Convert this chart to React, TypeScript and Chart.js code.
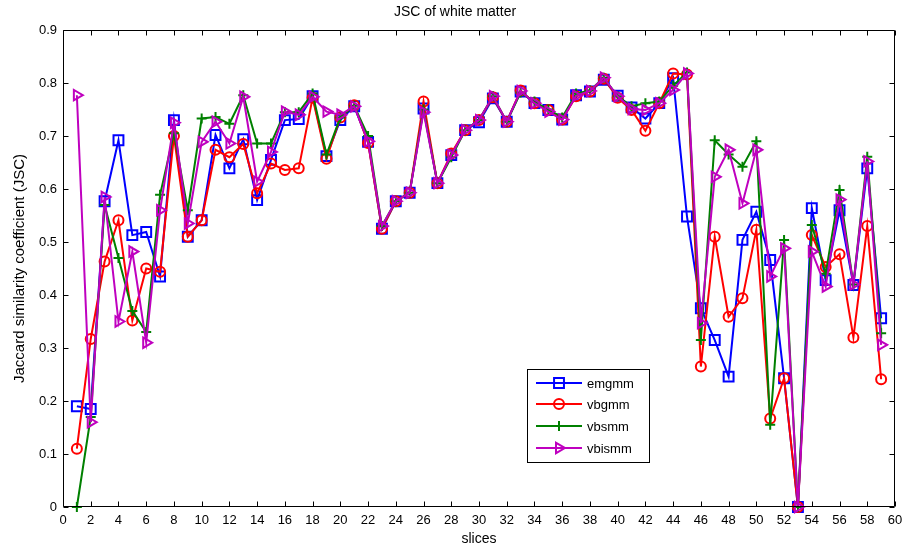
import React, { useEffect, useRef } from "react";
import { Chart, registerables } from "chart.js";

Chart.register(...registerables);

const slices = [1, 2, 3, 4, 5, 6, 7, 8, 9, 10, 11, 12, 13, 14, 15, 16, 17, 18, 19, 20, 21, 22, 23, 24, 25, 26, 27, 28, 29, 30, 31, 32, 33, 34, 35, 36, 37, 38, 39, 40, 41, 42, 43, 44, 45, 46, 47, 48, 49, 50, 51, 52, 53, 54, 55, 56, 57, 58, 59];

const emgmm = [0.19, 0.185, 0.577, 0.692, 0.513, 0.519, 0.435, 0.73, 0.51, 0.541, 0.702, 0.639, 0.694, 0.579, 0.655, 0.73, 0.732, 0.775, 0.662, 0.73, 0.756, 0.689, 0.525, 0.577, 0.593, 0.752, 0.611, 0.664, 0.711, 0.726, 0.771, 0.727, 0.784, 0.762, 0.749, 0.731, 0.777, 0.784, 0.806, 0.776, 0.754, 0.733, 0.762, 0.809, 0.548, 0.375, 0.315, 0.246, 0.504, 0.557, 0.466, 0.243, 0.0, 0.564, 0.428, 0.56, 0.419, 0.639, 0.356];

const vbgmm = [0.11, 0.317, 0.463, 0.541, 0.352, 0.45, 0.444, 0.7, 0.51, 0.541, 0.674, 0.66, 0.685, 0.592, 0.648, 0.636, 0.639, 0.772, 0.657, 0.735, 0.758, 0.687, 0.525, 0.577, 0.593, 0.765, 0.611, 0.667, 0.711, 0.73, 0.773, 0.727, 0.786, 0.762, 0.749, 0.731, 0.775, 0.784, 0.808, 0.772, 0.749, 0.71, 0.762, 0.818, 0.816, 0.265, 0.51, 0.359, 0.394, 0.523, 0.167, 0.243, 0.0, 0.513, 0.453, 0.477, 0.32, 0.53, 0.241];

const vbsmm = [0.0, 0.17, 0.57, 0.47, 0.37, 0.33, 0.589, 0.705, 0.56, 0.733, 0.736, 0.723, 0.777, 0.686, 0.686, 0.745, 0.745, 0.78, 0.665, 0.735, 0.757, 0.7, 0.53, 0.577, 0.593, 0.75, 0.611, 0.66, 0.711, 0.73, 0.775, 0.727, 0.782, 0.765, 0.75, 0.735, 0.78, 0.786, 0.81, 0.775, 0.756, 0.762, 0.765, 0.795, 0.82, 0.315, 0.692, 0.665, 0.642, 0.69, 0.155, 0.504, 0.0, 0.532, 0.44, 0.598, 0.42, 0.661, 0.328];

const vbismm = [0.777, 0.16, 0.585, 0.35, 0.482, 0.31, 0.56, 0.725, 0.535, 0.689, 0.727, 0.686, 0.774, 0.614, 0.67, 0.746, 0.74, 0.774, 0.746, 0.74, 0.756, 0.69, 0.53, 0.577, 0.593, 0.745, 0.611, 0.664, 0.711, 0.73, 0.775, 0.727, 0.785, 0.762, 0.746, 0.731, 0.776, 0.785, 0.81, 0.775, 0.751, 0.749, 0.762, 0.787, 0.818, 0.347, 0.623, 0.674, 0.573, 0.674, 0.435, 0.488, 0.0, 0.482, 0.416, 0.58, 0.42, 0.652, 0.306];

const seriesNames = ["emgmm", "vbgmm", "vbsmm", "vbismm"];
const seriesColors = ["#0000ff", "#ff0000", "#008000", "#bf00bf"];

const chartTitle = "JSC of white matter";
const xTitle = "slices";
const yTitle = "Jaccard similarity coefficient (JSC)";

const FONT = "'Liberation Sans', Arial, Helvetica, sans-serif";

function toPoints(vals: number[]) {
  return slices.map((s, i) => ({ x: s, y: vals[i] }));
}

const markerDefs = [
  { style: "rect", radius: 7, rotation: 0 },
  { style: "circle", radius: 5, rotation: 0 },
  { style: "cross", radius: 5, rotation: 0 },
  { style: "triangle", radius: 6, rotation: 90 },
];

function drawMarker(ctx: CanvasRenderingContext2D, style: string, r: number, rot: number, x: number, y: number, color: string) {
  ctx.save();
  ctx.strokeStyle = color;
  ctx.lineWidth = 2;
  ctx.beginPath();
  if (style === "rect") {
    const s = Math.SQRT1_2 * r;
    ctx.rect(x - s, y - s, 2 * s, 2 * s);
  } else if (style === "circle") {
    ctx.arc(x, y, r, 0, Math.PI * 2);
  } else if (style === "cross") {
    ctx.moveTo(x - r, y);
    ctx.lineTo(x + r, y);
    ctx.moveTo(x, y - r);
    ctx.lineTo(x, y + r);
  } else if (style === "triangle") {
    const rad = (rot * Math.PI) / 180;
    for (let k = 0; k < 3; k++) {
      const a = rad + (k * 2 * Math.PI) / 3;
      const px = x + Math.sin(a) * r;
      const py = y - Math.cos(a) * r;
      if (k === 0) ctx.moveTo(px, py);
      else ctx.lineTo(px, py);
    }
    ctx.closePath();
  }
  ctx.stroke();
  ctx.restore();
}

const matlabPlugin = {
  id: "matlabAxes",
  afterDraw(chart: any) {
    const { ctx, chartArea } = chart;
    const { left, right, top, bottom } = chartArea;
    const xs = chart.scales.x;
    const ys = chart.scales.y;
    ctx.save();
    ctx.strokeStyle = "#000";
    ctx.lineWidth = 1;
    const L = Math.round(left) + 0.5;
    const R = Math.round(right) - 0.5;
    const T = Math.round(top) + 0.5;
    const B = Math.round(bottom) - 0.5;
    ctx.beginPath();
    ctx.rect(L, T, R - L, B - T);
    ctx.stroke();
    const tl = 5;
    ctx.beginPath();
    xs.ticks.forEach((t: any) => {
      const px = Math.round(xs.getPixelForValue(t.value)) + 0.5;
      ctx.moveTo(px, B);
      ctx.lineTo(px, B - tl);
      ctx.moveTo(px, T);
      ctx.lineTo(px, T + tl);
    });
    ys.ticks.forEach((t: any) => {
      const py = Math.round(ys.getPixelForValue(t.value)) + 0.5;
      ctx.moveTo(L, py);
      ctx.lineTo(L + tl, py);
      ctx.moveTo(R, py);
      ctx.lineTo(R - tl, py);
    });
    ctx.stroke();

    // titles
    ctx.fillStyle = "#000";
    ctx.textAlign = "center";
    ctx.textBaseline = "middle";
    ctx.font = `14px ${FONT}`;
    ctx.fillText(chartTitle, 455, 12);
    ctx.fillText(xTitle, (left + right) / 2, 539);
    ctx.save();
    ctx.font = `15px ${FONT}`;
    ctx.translate(20, (top + bottom) / 2);
    ctx.rotate(-Math.PI / 2);
    ctx.fillText(yTitle, 0, 0);
    ctx.restore();

    // legend
    const bx = 527.5, by = 369.5, bw = 122, bh = 93;
    ctx.fillStyle = "#fff";
    ctx.fillRect(bx, by, bw, bh);
    ctx.strokeStyle = "#000";
    ctx.lineWidth = 1;
    ctx.strokeRect(bx, by, bw, bh);
    const rowY = [383, 404, 426, 448];
    seriesNames.forEach((name, i) => {
      const y = rowY[i];
      ctx.strokeStyle = seriesColors[i];
      ctx.lineWidth = 2;
      ctx.beginPath();
      ctx.moveTo(536, y);
      ctx.lineTo(582, y);
      ctx.stroke();
      const m = markerDefs[i];
      drawMarker(ctx, m.style, m.radius, m.rotation, 559, y, seriesColors[i]);
      ctx.fillStyle = "#000";
      ctx.font = `13px ${FONT}`;
      ctx.textAlign = "left";
      ctx.textBaseline = "middle";
      ctx.fillText(name, 587, y + 1);
    });
    ctx.restore();
  },
};

export default function App() {
  const ref = useRef<HTMLCanvasElement | null>(null);
  useEffect(() => {
    document.body.style.margin = "0";
    const canvas = ref.current;
    if (!canvas) return;
    const allSeries = [emgmm, vbgmm, vbsmm, vbismm];
    const chart = new Chart(canvas, {
      type: "line",
      data: {
        datasets: allSeries.map((vals, i) => ({
          label: seriesNames[i],
          data: toPoints(vals),
          borderColor: seriesColors[i],
          backgroundColor: "rgba(0,0,0,0)",
          borderWidth: 2,
          pointStyle: markerDefs[i].style as any,
          pointRadius: markerDefs[i].radius,
          pointRotation: markerDefs[i].rotation,
          pointBorderColor: seriesColors[i],
          pointBackgroundColor: "rgba(0,0,0,0)",
          pointBorderWidth: 2,
          tension: 0,
          fill: false,
          clip: false as any,
          order: 3 - i,
        })),
      },
      options: {
        responsive: false,
        animation: false,
        events: [],
        layout: { padding: { top: 30, right: 7, left: 0, bottom: 0 } },
        plugins: {
          legend: { display: false },
          title: { display: false },
          tooltip: { enabled: false },
        },
        scales: {
          x: {
            type: "linear",
            min: 0,
            max: 60,
            grid: { display: false, drawTicks: false },
            border: { display: false },
            ticks: {
              stepSize: 2,
              padding: 6,
              maxRotation: 0,
              autoSkip: false,
              color: "#000",
              font: { family: FONT, size: 13 },
            },
            afterFit: (s: any) => {
              s.height = 41;
              s.paddingLeft = 0;
              s.paddingRight = 0;
            },
          },
          y: {
            type: "linear",
            min: 0,
            max: 0.9,
            grid: { display: false, drawTicks: false },
            border: { display: false },
            ticks: {
              stepSize: 0.1,
              padding: 6,
              color: "#000",
              font: { family: FONT, size: 13 },
              callback: (v: any) => String(Math.round(Number(v) * 10) / 10),
            },
            afterFit: (s: any) => {
              s.width = 63;
              s.paddingTop = 0;
              s.paddingBottom = 0;
            },
          },
        },
      },
      plugins: [matlabPlugin],
    });
    return () => chart.destroy();
  }, []);
  return (
    <div style={{ position: "absolute", left: 0, top: 0, width: 904, height: 548, background: "#fff" }}>
      <canvas ref={ref} width={904} height={548} />
    </div>
  );
}
